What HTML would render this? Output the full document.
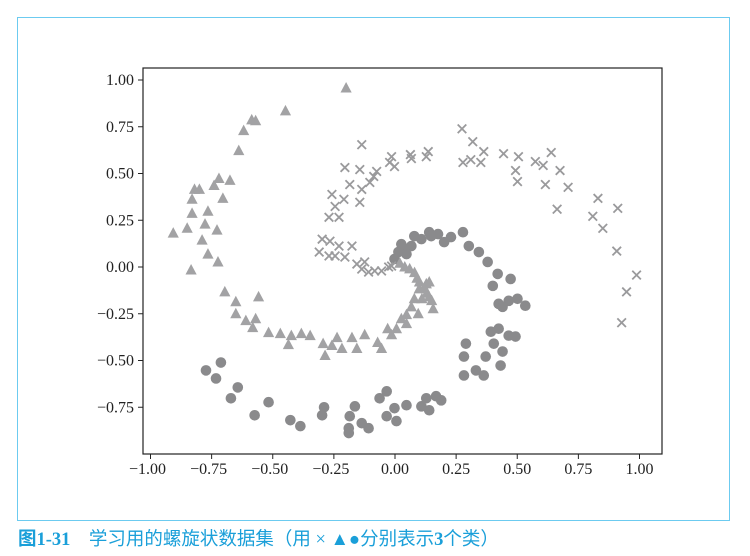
<!DOCTYPE html>
<html><head><meta charset="utf-8"><style>
html,body{margin:0;padding:0;background:#fff;}
#wrap{position:relative;width:750px;height:556px;overflow:hidden;}
#frame{position:absolute;left:17px;top:17px;width:713px;height:504px;border:1.5px solid #6ccbf0;box-sizing:border-box;}
#cap{position:absolute;left:18px;top:525px;font-family:"Liberation Serif","Noto Sans CJK SC",serif;font-size:18.5px;color:#1a9fd9;white-space:pre;}
svg text{font-family:"Liberation Serif",serif;font-size:16px;fill:#222;}
</style></head><body>
<div id="wrap">
<div id="frame"></div>
<svg id="chart" width="750" height="556" style="position:absolute;left:0;top:0"></svg>
<div id="cap"><b>图1-31</b>    学习用的螺旋状数据集（用 × ▲●分别表示<b>3</b>个类）</div>
</div>
<script>
const xTicks=[-1,-0.75,-0.5,-0.25,0,0.25,0.5,0.75,1];
const yTicks=[1,0.75,0.5,0.25,0,-0.25,-0.5,-0.75];
const xTickLabels=["−1.00","−0.75","−0.50","−0.25","0.00","0.25","0.50","0.75","1.00"];
const yTickLabels=["1.00","0.75","0.50","0.25","0.00","−0.25","−0.50","−0.75"];
const crossX=[0.274,0.318,-0.136,0.363,0.444,0.505,0.639,0.574,0.606,0.675,0.493,0.501,0.615,0.708,0.663,0.830,0.809,0.911,0.850,0.907,0.988,0.947,0.927,0.278,0.310,0.351,0.136,0.128,0.063,0.067,-0.014,-0.002,-0.022,-0.075,-0.087,-0.103,-0.136,-0.144,-0.144,-0.205,-0.185,-0.209,-0.245,-0.258,-0.270,-0.229,-0.298,-0.310,-0.266,-0.229,-0.176,-0.245,-0.205,-0.156,-0.136,-0.108,-0.083,-0.055,-0.026,-0.014,-0.124,-0.270];
const crossY=[0.739,0.670,0.654,0.617,0.606,0.590,0.612,0.564,0.543,0.516,0.516,0.457,0.441,0.426,0.309,0.367,0.271,0.314,0.207,0.085,-0.043,-0.133,-0.298,0.559,0.574,0.559,0.617,0.590,0.601,0.580,0.590,0.537,0.559,0.511,0.484,0.452,0.415,0.346,0.521,0.532,0.441,0.362,0.324,0.388,0.266,0.266,0.149,0.080,0.138,0.112,0.112,0.059,0.053,0.016,-0.011,-0.027,-0.021,-0.021,0,0.005,0.027,0.059];
const triX=[-0.20,-0.448,-0.586,-0.570,-0.619,-0.639,-0.72,-0.675,-0.82,-0.80,-0.74,-0.83,-0.704,-0.765,-0.83,-0.907,-0.85,-0.777,-0.728,-0.789,-0.834,-0.724,-0.765,-0.696,-0.651,-0.558,-0.570,-0.651,-0.61,-0.582,-0.469,-0.517,-0.424,-0.383,-0.436,-0.347,-0.294,-0.286,-0.258,-0.237,-0.176,-0.156,-0.217,-0.124,-0.071,-0.055,-0.014,0.006,0.026,0.047,0.067,0.047,-0.030,0.079,0.099,0.128,0.140,0.156,0.095,0.02,0.04,0.06,0.08,0.09,0.10,0.12,0.13,0.11,0.15,0.14];
const triY=[0.957,0.835,0.787,0.782,0.729,0.622,0.473,0.463,0.415,0.415,0.436,0.362,0.367,0.298,0.287,0.181,0.207,0.229,0.197,0.144,-0.016,0.027,0.069,-0.133,-0.186,-0.160,-0.277,-0.250,-0.287,-0.324,-0.356,-0.351,-0.367,-0.356,-0.415,-0.367,-0.410,-0.473,-0.420,-0.378,-0.378,-0.436,-0.436,-0.362,-0.404,-0.436,-0.362,-0.33,-0.277,-0.255,-0.213,-0.303,-0.33,-0.170,-0.117,-0.090,-0.160,-0.223,-0.250,0.02,0.0,-0.01,-0.03,-0.06,-0.08,-0.11,-0.14,-0.17,-0.18,-0.08];
const circX=[-0.773,-0.732,-0.712,-0.671,-0.643,-0.574,-0.517,-0.428,-0.387,-0.298,-0.290,-0.189,-0.189,-0.164,-0.185,-0.136,-0.108,-0.063,-0.034,-0.034,-0.002,0.006,0.047,0.108,0.140,0.128,0.168,0.189,0.282,0.282,0.290,0.331,0.363,0.371,0.404,0.432,0.440,0.392,0.424,0.465,0.493,0.424,0.465,0.501,0.533,0.440,0.400,0.473,0.420,0.379,0.343,0.302,0.278,0.229,0.201,0.176,0.140,0.108,0.079,0.067,0.039,0.014,-0.002,0.026,0.148,0.047];
const circY=[-0.553,-0.596,-0.511,-0.702,-0.644,-0.793,-0.723,-0.819,-0.851,-0.793,-0.750,-0.862,-0.888,-0.745,-0.798,-0.835,-0.862,-0.702,-0.665,-0.798,-0.755,-0.824,-0.739,-0.745,-0.766,-0.702,-0.691,-0.713,-0.580,-0.479,-0.410,-0.553,-0.580,-0.479,-0.410,-0.527,-0.452,-0.346,-0.330,-0.367,-0.372,-0.197,-0.181,-0.170,-0.207,-0.213,-0.101,-0.064,-0.037,0.027,0.080,0.112,0.186,0.160,0.133,0.176,0.186,0.149,0.165,0.112,0.096,0.080,0.043,0.122,0.165,0.069];

const NS="http://www.w3.org/2000/svg";
const svg=document.getElementById('chart');
const L=143,R=662,T=68,B=454;
const sx=v=>395+v*244.5;
const sy=v=>267-v*187;
function mk(tag,attrs,parent){const e=document.createElementNS(NS,tag);for(const k in attrs)e.setAttribute(k,attrs[k]);(parent||svg).appendChild(e);return e;}

const frame=mk('rect',{x:L,y:T,width:R-L,height:B-T,fill:'none',stroke:'#222','stroke-width':1.2});



const gx=mk('g',{});


xTicks.forEach((v,i)=>{
  const x=sx(v);
  mk('line',{x1:x,y1:B,x2:x,y2:B+5,stroke:'#222','stroke-width':1},gx);
  const t=mk('text',{x:x-(v<0?3:0),y:B+20,'text-anchor':'middle'},gx);
  t.textContent=xTickLabels[i];
  
  
});
const gy=mk('g',{});


yTicks.forEach((v,i)=>{
  const y=sy(v);
  mk('line',{x1:L-5,y1:y,x2:L,y2:y,stroke:'#222','stroke-width':1},gy);
  const t=mk('text',{x:L-9,y:y+5,'text-anchor':'end'},gy);
  t.textContent=yTickLabels[i];
  
  
});

const gc=mk('g',{fill:'#8a8a8c'});


circX.forEach((v,i)=>{
  const c=mk('circle',{cx:sx(v),cy:sy(circY[i]),r:5.3},gc);
  
  
});
const gt=mk('g',{fill:'#a2a2a4'});


triX.forEach((v,i)=>{
  const x=sx(v),y=sy(triY[i]);
  const p=mk('polygon',{points:`${x},${y-6} ${x-5.6},${y+4.5} ${x+5.6},${y+4.5}`},gt);
  
  
});
const gk=mk('g',{stroke:'#9a9a9c','stroke-width':1.8});


crossX.forEach((v,i)=>{
  const x=sx(v),y=sy(crossY[i]),d=4.3;
  const p=mk('path',{d:`M${x-d},${y-d}L${x+d},${y+d}M${x-d},${y+d}L${x+d},${y-d}`},gk);
  
  
});
</script>
</body></html>
